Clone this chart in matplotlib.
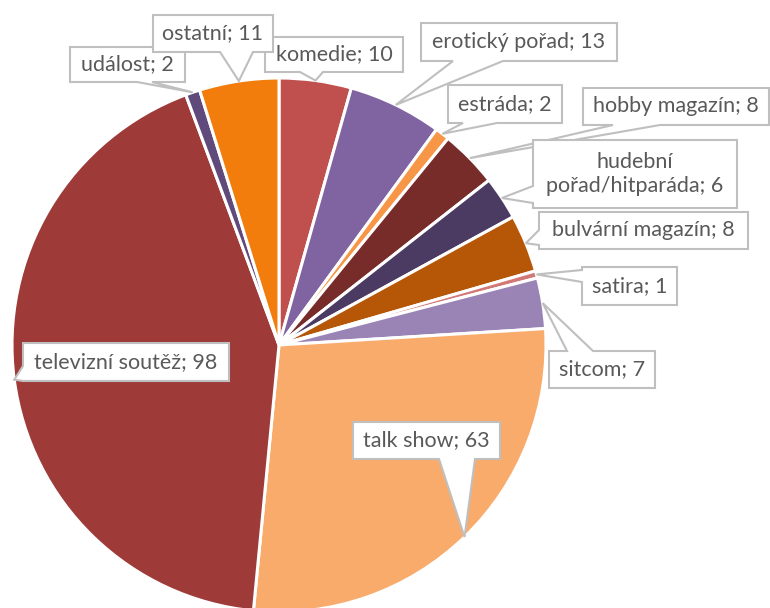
import numpy as np
import matplotlib.pyplot as plt
from matplotlib.patches import Polygon

# data (clockwise from 12 o'clock)
labels = ['komedie', 'erotický pořad', 'estráda', 'hobby magazín',
          'hudební\npořad/hitparáda', 'bulvární magazín', 'satira', 'sitcom',
          'talk show', 'televizní soutěž', 'událost', 'ostatní']
values = [10, 13, 2, 8, 6, 8, 1, 7, 63, 98, 2, 11]
colors = ['#C0504D', '#8064A2', '#F79646', '#772C2A', '#4B3A62', '#B65708',
          '#D27876', '#9A84B6', '#F9AB6B', '#9E3A38', '#604A7B', '#F27D0C']

W, H = 770, 608
cx, cy, R = 279, 345, 267   # pixel coords, y down

# callout boxes: (x0, y0, x1, y1), pointer side, pointer base span
boxes = [
    ((265, 37, 403, 72), 'bottom', (300, 323)),
    ((421, 23, 617, 61), 'bottom', (453, 503)),
    ((448, 85, 562, 123), 'bottom', (463, 497)),
    ((583, 88, 769, 125), 'bottom', (613, 660)),
    ((533, 140, 737, 208), 'left', (186, 203)),
    ((539, 212, 748, 249), 'left', (230, 245)),
    ((582, 267, 677, 305), 'left', (270, 282)),
    ((549, 351, 655, 388), 'top', (567, 593)),
    ((353, 422, 500, 459), 'bottom', (439, 475)),
    ((23, 343, 229, 381), 'left', (366, 381)),
    ((70, 47, 185, 82), 'bottom', (137, 152)),
    ((153, 15, 273, 52), 'bottom', (220, 253)),
]

plt.rcParams['font.family'] = ['Lato', 'DejaVu Sans']

fig = plt.figure(figsize=(7.7, 6.08), dpi=100)
ax = fig.add_axes([0, 0, 1, 1])

ax.pie(values, colors=colors, startangle=90, counterclock=False,
       center=(cx, H - cy), radius=R,
       wedgeprops=dict(edgecolor='white', linewidth=2.2))
ax.set_xlim(0, W)
ax.set_ylim(0, H)
ax.set_aspect('equal')
ax.axis('off')

total = sum(values)
cum = np.cumsum([0] + values)
for i, (lab, v) in enumerate(zip(labels, values)):
    mid = np.deg2rad((cum[i] + cum[i + 1]) / 2 / total * 360)
    tx = cx + R * np.sin(mid)
    ty = cy - R * np.cos(mid)
    (x0, y0, x1, y1), side, (a, b) = boxes[i]
    if side == 'bottom':
        pts = [(x0, y0), (x1, y0), (x1, y1), (b, y1), (tx, ty), (a, y1), (x0, y1)]
    elif side == 'top':
        pts = [(x0, y0), (a, y0), (tx, ty), (b, y0), (x1, y0), (x1, y1), (x0, y1)]
    else:
        pts = [(x0, y0), (x1, y0), (x1, y1), (x0, y1), (x0, b), (tx, ty), (x0, a)]
    pts = [(px, H - py) for px, py in pts]
    ax.add_patch(Polygon(pts, closed=True, facecolor='white', edgecolor='#BFBFBF',
                         linewidth=1.5, joinstyle='miter', zorder=5))
    ax.text((x0 + x1) / 2, H - (y0 + y1) / 2, f'{lab}; {v}', ha='center', va='center',
            fontsize=15.5, color='#595959', zorder=6, linespacing=1.2)

fig.savefig('out.png', dpi=100)
